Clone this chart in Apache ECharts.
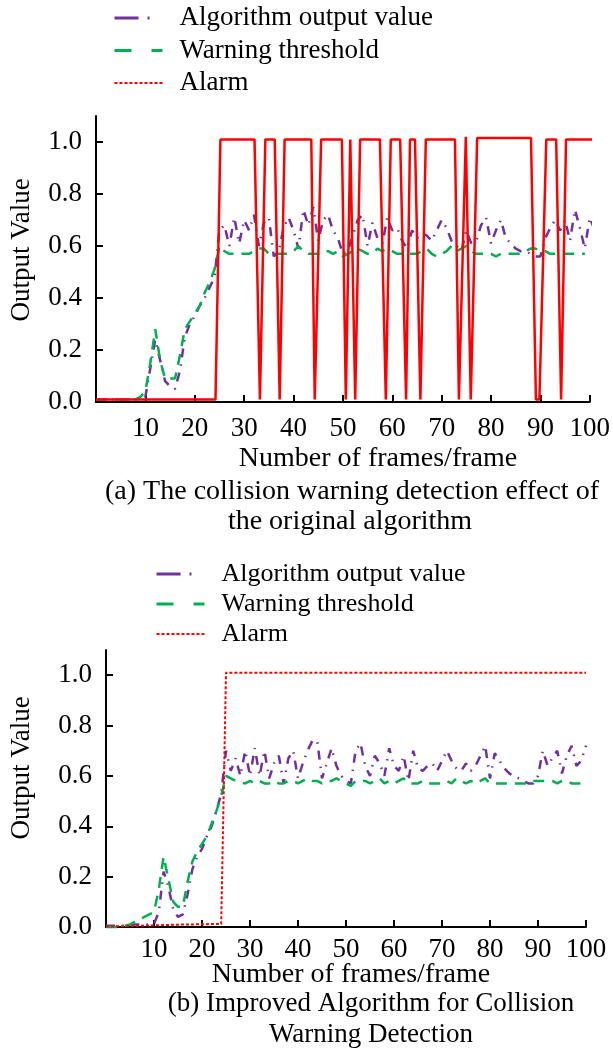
<!DOCTYPE html>
<html>
<head>
<meta charset="utf-8">
<script src="https://cdn.jsdelivr.net/npm/echarts@6/dist/echarts.min.js"></script>
<style>
html,body{margin:0;padding:0;background:#fff;}
#chart{width:613px;height:1050px;}
</style>
</head>
<body>
<div id="chart"></div>
<script>
// ---------- data ----------
const seriesNames = ['Algorithm output value', 'Warning threshold', 'Alarm'];
const xTickLabels = [10, 20, 30, 40, 50, 60, 70, 80, 90, 100];
const yTickLabels = [0, 0.2, 0.4, 0.6, 0.8, 1.0];

// (a) original algorithm, frames 0..101
const outputA = [
0.01,0.01,0.01,0.01,0.01,0.01,0.01,0.01,0.01,0.01,
0.02,0.13,0.24,0.16,0.08,0.06,0.05,0.12,0.25,0.30,
0.33,0.37,0.40,0.44,0.48,0.66,0.68,0.60,0.71,0.61,
0.70,0.66,0.72,0.60,0.69,0.71,0.56,0.58,0.67,0.71,
0.66,0.59,0.74,0.68,0.75,0.62,0.70,0.72,0.66,0.63,
0.57,0.58,0.64,0.70,0.72,0.60,0.69,0.63,0.61,0.71,
0.66,0.67,0.62,0.59,0.66,0.63,0.65,0.64,0.62,0.66,
0.70,0.67,0.62,0.60,0.58,0.66,0.61,0.62,0.68,0.71,
0.61,0.66,0.70,0.63,0.61,0.59,0.58,0.58,0.57,0.56,
0.56,0.63,0.67,0.70,0.66,0.70,0.62,0.74,0.67,0.59,
0.71,0.66
];
// frames 0..99
const thresholdA = [
0.01,0.01,0.01,0.01,0.01,0.01,0.01,0.01,0.01,0.02,
0.04,0.15,0.28,0.16,0.09,0.09,0.09,0.18,0.28,0.31,
0.34,0.37,0.42,0.46,0.51,0.60,0.58,0.57,0.57,0.57,
0.57,0.57,0.58,0.59,0.59,0.57,0.57,0.57,0.57,0.57,
0.58,0.60,0.58,0.57,0.57,0.57,0.58,0.58,0.57,0.58,
0.56,0.57,0.58,0.59,0.58,0.57,0.57,0.59,0.58,0.59,
0.58,0.57,0.57,0.57,0.57,0.57,0.58,0.59,0.57,0.56,
0.57,0.58,0.60,0.58,0.59,0.60,0.58,0.57,0.57,0.57,
0.57,0.56,0.57,0.57,0.57,0.57,0.57,0.58,0.59,0.59,
0.58,0.58,0.57,0.57,0.57,0.57,0.57,0.57,0.57,0.57
];
// alarm (a): turning points of the alarm signal, frame and value
const alarmAFrames = [
0, 24.2, 25.2, 32.1, 33.2, 34.3, 36.2, 37.2, 38.2, 43.6,
44.3, 45.6, 49.8, 50.6, 51.5, 52.5, 53.5, 57.5, 58.7, 59.7,
61.6, 62.8, 63.6, 64.6, 65.7, 66.8, 72.7, 73.5, 74.9, 75.9,
77.2, 88.1, 89.1, 89.8, 91.2, 93.2, 94.2, 95.2, 101.3
];
const alarmAValues = [
0.01, 0.01, 1.01, 1.01, 0.01, 1.01, 1.01, 0.01, 1.01, 1.01,
0.01, 1.01, 1.01, 0.01, 1.01, 0.01, 1.01, 1.01, 0.01, 1.01,
1.01, 0.01, 1.01, 1.01, 0.01, 1.01, 1.01, 0.01, 1.02, 0.01,
1.015, 1.015, 0.01, 0.01, 1.01, 1.01, 0.01, 1.01, 1.01
];

// (b) improved algorithm, frames 0..100
const outputB = [
0.005,0.005,0.005,0.005,0.005,0.01,0.01,0.01,0.01,0.01,
0.012,0.06,0.22,0.16,0.07,0.04,0.05,0.13,0.23,0.28,
0.31,0.36,0.40,0.46,0.53,0.70,0.62,0.67,0.60,0.70,
0.60,0.71,0.60,0.70,0.59,0.65,0.68,0.57,0.67,0.70,
0.59,0.65,0.70,0.74,0.74,0.59,0.65,0.71,0.64,0.60,
0.58,0.57,0.70,0.73,0.64,0.60,0.68,0.65,0.60,0.71,
0.64,0.62,0.68,0.58,0.70,0.63,0.62,0.64,0.65,0.62,
0.66,0.70,0.66,0.63,0.62,0.65,0.62,0.64,0.68,0.72,
0.59,0.69,0.66,0.63,0.61,0.60,0.59,0.58,0.57,0.57,
0.60,0.70,0.64,0.67,0.70,0.61,0.68,0.72,0.64,0.66,
0.72
];
const thresholdB = [
0.0,0.0,0.0,0.0,0.005,0.01,0.02,0.03,0.04,0.05,
0.06,0.15,0.28,0.19,0.10,0.08,0.08,0.18,0.26,0.30,
0.33,0.36,0.41,0.46,0.52,0.60,0.59,0.58,0.575,0.57,
0.58,0.57,0.58,0.57,0.57,0.58,0.57,0.57,0.58,0.58,
0.57,0.58,0.59,0.58,0.58,0.57,0.58,0.58,0.59,0.58,
0.57,0.56,0.58,0.58,0.58,0.57,0.58,0.59,0.57,0.58,
0.57,0.58,0.59,0.57,0.57,0.57,0.58,0.57,0.57,0.57,
0.57,0.58,0.57,0.59,0.58,0.57,0.58,0.57,0.58,0.59,
0.57,0.57,0.57,0.57,0.57,0.57,0.57,0.57,0.57,0.58,
0.58,0.58,0.58,0.58,0.57,0.58,0.58,0.57,0.57,0.57,
0.575
];
const alarmB = [
0.002,0.002,0.003,0.003,0.004,0.004,0.005,0.005,0.006,0.006,
0.007,0.007,0.008,0.008,0.009,0.009,0.010,0.010,0.010,0.011,
0.011,0.011,0.012,0.012,0.012,1.01,1.01,1.01,1.01,1.01,
1.01,1.01,1.01,1.01,1.01,1.01,1.01,1.01,1.01,1.01,
1.01,1.01,1.01,1.01,1.01,1.01,1.01,1.01,1.01,1.01,
1.01,1.01,1.01,1.01,1.01,1.01,1.01,1.01,1.01,1.01,
1.01,1.01,1.01,1.01,1.01,1.01,1.01,1.01,1.01,1.01,
1.01,1.01,1.01,1.01,1.01,1.01,1.01,1.01,1.01,1.01,
1.01,1.01,1.01,1.01,1.01,1.01,1.01,1.01,1.01,1.01,
1.01,1.01,1.01,1.01,1.01,1.01,1.01,1.01,1.01,1.01,
1.01
];

// ---------- styling ----------
const FONT = "'Liberation Serif', 'Times New Roman', serif";
const PURPLE = '#7030A0', GREEN = '#00B050', RED = '#FF0000';
const pairs = arr => arr.map((v, i) => [i, v]);
const zipXY = (xs, ys) => xs.map((x, i) => [x, ys[i]]);

function xAxis(gridIndex, margin) {
  return {
    type: 'value', gridIndex, min: 0, max: 100,
    axisLine: { show: true, onZero: false, lineStyle: { color: '#000', width: 2 } },
    axisTick: { show: true, inside: true, length: 7, lineStyle: { color: '#000', width: 2 }, customValues: xTickLabels },
    axisLabel: { show: true, margin, color: '#000', fontFamily: FONT, fontSize: 27, customValues: xTickLabels },
    splitLine: { show: false }
  };
}
function yAxis(gridIndex) {
  return {
    type: 'value', gridIndex, min: 0, max: 1.1,
    axisLine: { show: true, onZero: false, lineStyle: { color: '#000', width: 2 } },
    axisTick: { show: true, inside: true, length: 7, lineStyle: { color: '#000', width: 2 }, customValues: yTickLabels },
    axisLabel: { show: true, margin: 14, color: '#000', fontFamily: FONT, fontSize: 27, customValues: yTickLabels,
      formatter: v => v.toFixed(1) },
    splitLine: { show: false }
  };
}
function line(name, data, idx, color, type, width) {
  return {
    name, type: 'line', xAxisIndex: idx, yAxisIndex: idx, data,
    symbol: 'none', showSymbol: false, clip: false, animation: false,
    lineStyle: { color, type, width }, itemStyle: { color }, z: name === 'Alarm' ? 3 : 2
  };
}
function legend(left, top, gap, size) {
  return {
    orient: 'vertical', left, top, padding: 0, itemGap: gap,
    itemWidth: 48, itemHeight: 14, selectedMode: false,
    textStyle: { fontFamily: FONT, fontSize: size, color: '#000', padding: [0, 0, 0, 12], lineHeight: 30 },
    data: [
      { name: seriesNames[0], itemStyle: { opacity: 0 }, lineStyle: { type: [24, 9, 2, 20], width: 3, color: PURPLE } },
      { name: seriesNames[1], itemStyle: { opacity: 0 }, lineStyle: { type: [17, 20], width: 3, color: GREEN } },
      { name: seriesNames[2], itemStyle: { opacity: 0 }, lineStyle: { type: [3, 2], width: 2, color: RED } }
    ]
  };
}
function txt(text, x, y, size, rot) {
  return { type: 'text', x, y, rotation: rot || 0, silent: true,
    style: { text, fill: '#000', font: size + 'px ' + FONT, align: 'center', verticalAlign: 'middle' } };
}

const option = {
  backgroundColor: '#fff',
  animation: false,
  legend: [legend(113, 3, 2.5, 27), legend(155, 559, 0, 26)],
  grid: [
    { left: 96, top: 116, width: 495, height: 286, containLabel: false },
    { left: 106, top: 650, width: 480, height: 277, containLabel: false }
  ],
  xAxis: [xAxis(0, 13), xAxis(1, 9)],
  yAxis: [yAxis(0), yAxis(1)],
  series: [
    line(seriesNames[0], pairs(outputA), 0, PURPLE, [9, 7, 1.5, 7], 2.5),
    line(seriesNames[1], pairs(thresholdA), 0, GREEN, [11, 8], 2.5),
    line(seriesNames[2], zipXY(alarmAFrames, alarmAValues), 0, RED, 'solid', 2.5),
    line(seriesNames[0], pairs(outputB), 1, PURPLE, [9, 7, 1.5, 7], 2.5),
    line(seriesNames[1], pairs(thresholdB), 1, GREEN, [11, 8], 2.5),
    line(seriesNames[2], pairs(alarmB), 1, RED, [3, 2], 2)
  ],
  graphic: [
    txt('Output Value', 22, 250, 27, Math.PI / 2),
    txt('Number of frames/frame', 378, 459, 28),
    txt('(a) The collision warning detection effect of', 352, 492, 28),
    txt('the original algorithm', 350, 522, 28),
    txt('Output Value', 22, 768, 27, Math.PI / 2),
    txt('Number of frames/frame', 351, 975, 28),
    txt('(b) Improved Algorithm for Collision', 371, 1004, 27),
    txt('Warning Detection', 371, 1035, 27)
  ]
};
const chart = echarts.init(document.getElementById('chart'), null, { renderer: 'canvas' });
chart.setOption(option);
</script>
</body>
</html>
